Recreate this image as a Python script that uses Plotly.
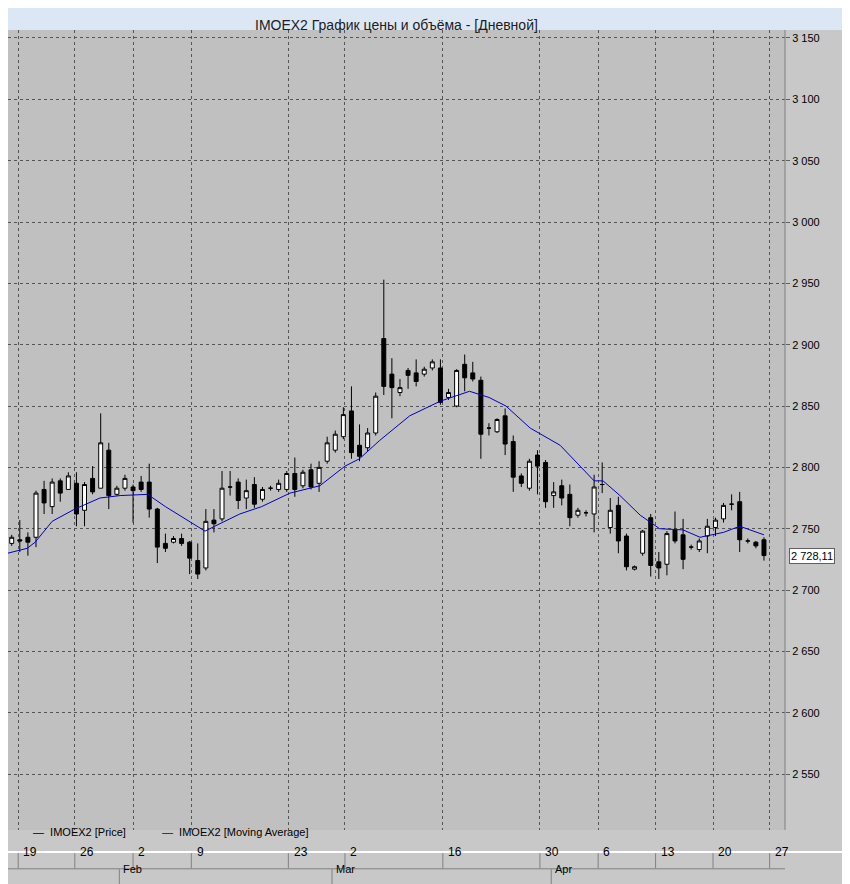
import plotly.graph_objects as go

# daily candles
opens = [2738, 2741, 2743, 2743, 2782, 2768, 2789, 2782, 2787, 2765, 2791, 2783, 2814, 2778, 2783, 2784, 2788, 2788,
         2766, 2738, 2739, 2742, 2739, 2724, 2718, 2757, 2758, 2784, 2788, 2775, 2786, 2774, 2783,
         2782, 2782, 2795, 2785, 2798, 2787, 2805, 2814, 2825, 2846, 2818, 2816, 2828, 2905, 2876, 2861, 2879, 2877,
         2876, 2881, 2881, 2857, 2850, 2884, 2877, 2871, 2832, 2829, 2842, 2821, 2793,
         2783, 2810, 2804, 2777, 2785, 2778, 2761, 2763, 2762, 2786, 2751, 2769, 2744, 2717, 2730, 2759, 2723, 2721,
         2749, 2745, 2735, 2733, 2744, 2751, 2758, 2770, 2772, 2740, 2739, 2741]
closes = [2743, 2740, 2739, 2779, 2771, 2788, 2779, 2793, 2762, 2786, 2780, 2820, 2777, 2783, 2791, 2781, 2782, 2766,
          2735, 2734, 2742, 2738, 2726, 2713, 2756, 2754, 2783, 2784, 2773, 2781, 2770, 2782, 2783,
          2787, 2795, 2782, 2796, 2784, 2800, 2820, 2827, 2843, 2812, 2809, 2828, 2858, 2866, 2865, 2865, 2875, 2870,
          2880, 2886, 2853, 2861, 2879, 2873, 2872, 2827, 2832, 2839, 2819, 2792, 2787,
          2805, 2801, 2772, 2780, 2775, 2759, 2765, 2763, 2784, 2786, 2765, 2740, 2719, 2719, 2748, 2720, 2718, 2746,
          2740, 2725, 2735, 2740, 2752, 2757, 2769, 2770, 2741, 2740, 2736, 2728.11]
highs = [2745, 2757, 2747, 2781, 2789, 2791, 2791, 2796, 2796, 2788, 2801, 2844, 2820, 2785, 2794, 2786, 2793, 2803,
         2767, 2746, 2744, 2746, 2740, 2738, 2766, 2766, 2797, 2797, 2791, 2790, 2792, 2784, 2785,
         2790, 2797, 2808, 2798, 2803, 2805, 2825, 2830, 2849, 2866, 2835, 2832, 2861, 2953, 2889, 2872, 2881, 2888,
         2882, 2888, 2888, 2864, 2880, 2892, 2886, 2874, 2836, 2840, 2848, 2826, 2795,
         2807, 2814, 2806, 2788, 2790, 2786, 2767, 2765, 2794, 2804, 2775, 2776, 2746, 2720, 2749, 2762, 2731, 2748,
         2764, 2758, 2737, 2742, 2758, 2759, 2771, 2778, 2780, 2742, 2740, 2743]
lows = [2736, 2731, 2728, 2735, 2762, 2762, 2772, 2782, 2752, 2752, 2778, 2783, 2766, 2777, 2781, 2755, 2780, 2759,
        2722, 2731, 2738, 2736, 2713, 2709, 2716, 2747, 2756, 2777, 2766, 2766, 2767, 2772, 2781,
        2780, 2780, 2776, 2783, 2782, 2780, 2803, 2812, 2823, 2807, 2805, 2813, 2826, 2859, 2840, 2858, 2864, 2866,
        2874, 2879, 2851, 2855, 2849, 2862, 2870, 2807, 2826, 2828, 2810, 2780, 2784,
        2781, 2778, 2767, 2767, 2769, 2752, 2759, 2760, 2747, 2779, 2746, 2730, 2716, 2716, 2728, 2711, 2709, 2712,
        2738, 2717, 2733, 2731, 2730, 2744, 2755, 2765, 2731, 2738, 2734, 2724]

# moving average, sampled along the blue line (candle index, value)
ma_idx = [-0.5, 1.9, 2.9, 5, 7.8, 10.9, 13.4, 16.8, 19, 22, 23.9, 25.1, 28.2, 30.9, 34.4, 38.1, 41.2,
          43, 45.5, 49.2, 53, 56.6, 59, 61.1, 64.1, 67.8, 72, 73.1, 75.2, 77.7, 80.1, 83, 85.1, 88,
          90, 93]
ma_val = [2730, 2734, 2739, 2756, 2766, 2775, 2777, 2778, 2768, 2756, 2748, 2752, 2762, 2768, 2779, 2785, 2801,
          2807, 2822, 2842, 2854, 2862, 2857, 2850, 2832, 2818, 2789, 2789, 2777, 2761, 2750, 2749, 2743, 2747,
          2752, 2745]

day_pos = [0.8, 7.8, 15, 22.2, 34.2, 41.2, 53.3, 65.3, 72.5, 79.6, 86.7, 93.7]
day_lbl = ["19", "26", "2", "9", "23", "2", "16", "30", "6", "13", "20", "27"]
month_pos = [14, 40.3, 67.4]
month_lbl = ["Feb", "Mar", "Apr"]
y_ticks = list(range(2550, 3151, 50))

idx = list(range(len(opens)))
font = "Liberation Sans, Arial, sans-serif"

fig = go.Figure()
fig.add_trace(go.Scatter(x=ma_idx, y=ma_val, mode="lines", line=dict(color="#0000c0", width=1),
                         hoverinfo="skip", name="IMOEX2 [Moving Average]"))
fig.add_trace(go.Candlestick(x=idx, open=opens, high=highs, low=lows, close=closes, whiskerwidth=0,
                             increasing=dict(fillcolor="white", line=dict(color="black", width=1)),
                             decreasing=dict(fillcolor="black", line=dict(color="black", width=1)),
                             name="IMOEX2 [Price]"))

shapes = []
# title bar
shapes.append(dict(type="rect", xref="paper", yref="paper", x0=-0.02, x1=1.1, y0=1.0, y1=1.04,
                   fillcolor="#dce7f5", line=dict(width=0), layer="below"))
# legend strip, white divider, date cells
shapes.append(dict(type="rect", xref="paper", yref="paper", x0=-0.02, x1=1.1, y0=-0.025, y1=-0.0005,
                   fillcolor="#c8c8c8", line=dict(width=0)))
shapes.append(dict(type="line", xref="paper", yref="paper", x0=-0.02, x1=1.1, y0=-0.0275, y1=-0.0275,
                   line=dict(color="white", width=2)))
shapes.append(dict(type="line", xref="paper", yref="paper", x0=0, x1=1, y0=-0.0485, y1=-0.0485,
                   line=dict(color="#808080", width=1)))
for p in day_pos:
    shapes.append(dict(type="line", xref="x", yref="paper", x0=p, x1=p, y0=-0.048, y1=-0.029,
                       line=dict(color="#808080", width=1)))
for p in month_pos:
    shapes.append(dict(type="line", xref="x", yref="paper", x0=p - 0.7, x1=p - 0.7, y0=-0.07, y1=-0.049,
                       line=dict(color="#808080", width=1)))
shapes.append(dict(type="line", xref="paper", yref="paper", x0=1, x1=1, y0=0, y1=1,
                   line=dict(color="#808080", width=1)))

ann = [dict(text="IMOEX2 График цены и объёма - [Дневной]", xref="paper", yref="paper", x=0.5, y=1.019,
            showarrow=False, font=dict(family=font, size=14, color="#202020")),
       dict(text="—  IMOEX2 [Price]", xref="paper", yref="paper", x=0.03, y=-0.0125, xanchor="left",
            showarrow=False, font=dict(family=font, size=11, color="black")),
       dict(text="<span style='color:#0000c0'>—</span>  IMOEX2 [Moving Average]", xref="paper", yref="paper",
            x=0.195, y=-0.0125, xanchor="left", showarrow=False, font=dict(family=font, size=11, color="black")),
       dict(text="2 728,11", xref="paper", yref="y", x=1.005, y=closes[-1], xanchor="left", showarrow=False,
            bgcolor="white", bordercolor="#606060", borderwidth=1, borderpad=1,
            font=dict(family=font, size=11, color="black"))]
for p, t in zip(day_pos, day_lbl):
    ann.append(dict(text=t, xref="x", yref="paper", x=p + 0.4, y=-0.0385, xanchor="left", showarrow=False,
                    font=dict(family=font, size=12, color="black")))
for p, t in zip(month_pos, month_lbl):
    ann.append(dict(text=t, xref="x", yref="paper", x=p - 0.5, y=-0.059, xanchor="left", showarrow=False,
                    font=dict(family=font, size=11, color="black")))

fig.update_layout(
    width=842, height=876, margin=dict(l=0, r=65, t=22, b=54, autoexpand=False),
    paper_bgcolor="#c8c8c8", plot_bgcolor="#c0c0c0", showlegend=False,
    shapes=shapes, annotations=ann,
    xaxis=dict(range=[-0.46, 95.6], rangeslider=dict(visible=False), tickvals=day_pos, showticklabels=False,
               showgrid=True, gridcolor="#555555", griddash="3px,3px", gridwidth=1, zeroline=False, ticks="",
               automargin=False),
    yaxis=dict(range=[2504.4, 3156.5], side="right", tickvals=y_ticks, automargin=False,
               ticktext=[f"{v // 1000} {v % 1000:03d}" for v in y_ticks],
               showgrid=True, gridcolor="#555555", griddash="3px,3px", gridwidth=1, zeroline=False,
               ticks="outside", ticklen=4, tickcolor="#606060",
               tickfont=dict(family=font, size=11, color="black")),
)
fig.write_html("out.html")
